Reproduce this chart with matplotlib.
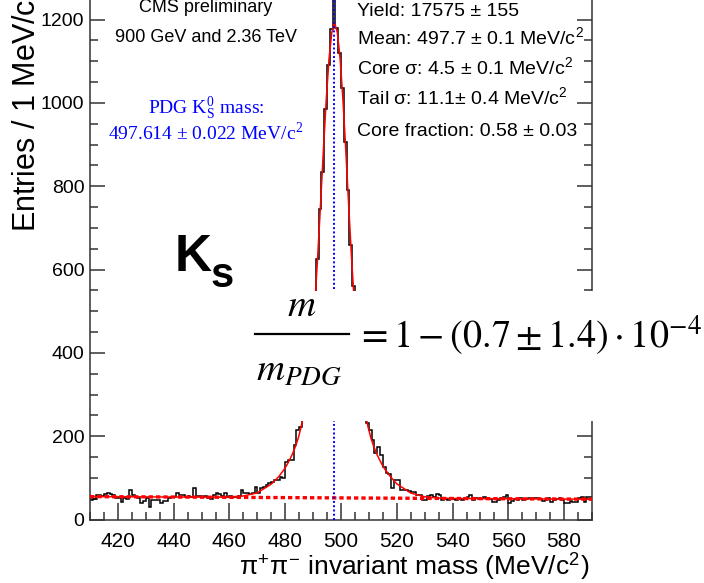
import numpy as np
import matplotlib
matplotlib.use("Agg")
import matplotlib.pyplot as plt
from matplotlib.patches import Rectangle
from matplotlib.lines import Line2D

plt.rcParams["font.family"] = ["Liberation Sans", "DejaVu Sans"]
plt.rcParams["mathtext.fontset"] = "stix"

# histogram: 1 MeV bins from 410 to 590 MeV/c^2
mass_lo, mass_hi, bin_width = 410, 590, 1
counts = [
    48, 50, 58, 59, 57, 61, 63, 62, 58, 51,
    52, 43, 51, 50, 71, 58, 55, 51, 39, 45,
    51, 31, 47, 46, 48, 40, 45, 44, 51, 55,
    54, 63, 60, 59, 55, 56, 54, 75, 56, 57,
    55, 56, 51, 50, 59, 63, 62, 56, 64, 55,
    56, 54, 55, 56, 71, 63, 64, 62, 63, 79,
    64, 75, 77, 83, 88, 91, 95, 95, 103, 100,
    139, 142, 143, 179, 215, 223, 240, 281, 345, 428,
    530, 625, 745, 835, 985, 1090, 1178, 1262, 1180, 1120,
    1035, 905, 790, 660, 560, 455, 375, 310, 268, 232,
    215, 190, 160, 175, 155, 125, 112, 110, 75, 95,
    95, 71, 72, 72, 69, 67, 67, 59, 59, 47,
    48, 56, 59, 55, 61, 58, 47, 50, 47, 51,
    50, 47, 49, 46, 52, 55, 59, 48, 52, 50,
    52, 55, 50, 49, 43, 43, 47, 51, 53, 59,
    40, 44, 50, 47, 51, 48, 50, 51, 49, 51,
    51, 50, 45, 47, 51, 43, 48, 49, 51, 48,
    40, 39, 44, 43, 43, 51, 55, 43, 53, 55,
]

# fitted curve (signal + background)
fit_x = [410, 415, 420, 425, 430, 435, 440, 445, 450, 455, 460, 465, 470, 475,
         477.7, 478.7, 479.7, 480.7, 481.7, 482.7, 483.7, 484.7, 485.7, 486.7,
         487.7, 488.7, 489.7, 490.7, 491.7, 492.7, 493.7, 494.7, 495.7, 496.7,
         497.7, 498.7, 499.7, 500.7, 501.7, 502.7, 503.7, 504.7, 505.7, 506.7,
         507.7, 508.7, 509.7, 510.7, 511.7, 512.7, 513.7, 514.7, 515.7, 516.7,
         517.7, 520, 525, 530, 535, 540, 545, 550, 555, 560, 565, 570, 575,
         580, 585, 590]
fit_y = [55, 54.8, 54.7, 54.5, 54.3, 54.1, 54, 53.9, 53.8, 53.6, 54, 56.5, 64, 85,
         103, 112, 121, 132, 145, 159, 176, 196, 222, 255,
         299, 357, 433, 527, 638, 761, 888, 1007, 1105, 1169,
         1192, 1169, 1105, 1007, 888, 761, 638, 527, 433, 357,
         299, 255, 222, 196, 176, 159, 145, 132, 121, 112,
         103, 85.6, 63.6, 54.5, 51.5, 50.5, 50.3, 50.1, 49.9, 49.8, 49.6, 49.4, 49.2,
         49.1, 48.9, 48.7]

# linear background
bkg_x = [410, 590]
bkg_y = [55, 48.7]

pdg_mass = 497.614

x_major = [420, 440, 460, 480, 500, 520, 540, 560, 580]
y_major = [0, 200, 400, 600, 800, 1000, 1200]

fit_lines = [
    "Yield: 17575 \u00b1 155",
    "Mean: 497.7 \u00b1 0.1 MeV/c$^\\mathregular{2}$",
    "Core \u03c3: 4.5 \u00b1 0.1 MeV/c$^\\mathregular{2}$",
    "Tail \u03c3: 11.1\u00b1 0.4 MeV/c$^\\mathregular{2}$",
    "Core fraction: 0.58 \u00b1 0.03",
]

W, H = 704, 583


def fx(x):
    return x / W


def fy(y):
    return 1 - y / H


fig = plt.figure(figsize=(W / 100, H / 100), dpi=100)
ax = fig.add_axes([fx(90), fy(519.5), fx(592) - fx(90), 519.5 / H])

edges = np.arange(mass_lo, mass_hi + bin_width, bin_width)
ax.stairs(counts, edges, baseline=None, color="black", lw=1.1, zorder=2)
ax.plot(bkg_x, bkg_y, color="red", lw=2.4, ls=(0, (1.3, 0.9)), zorder=3)
ax.plot(fit_x, fit_y, color="red", lw=1.1, zorder=4)
ax.axvline(pdg_mass, color="blue", lw=1.4, ls=(0, (1, 1.2)), zorder=5)

ax.set_xlim(mass_lo, mass_hi)
ax.set_ylim(0, 1247)
ax.set_xticks(x_major)
ax.set_xticks(np.arange(410, 591, 5), minor=True)
ax.set_yticks(y_major)
ax.set_yticks(np.arange(0, 1247, 50), minor=True)
ax.tick_params(which="both", direction="in", right=True, top=False, width=1.1, color="#333333")
ax.tick_params(axis="x", which="major", length=12, labelsize=15, pad=9)
ax.tick_params(axis="x", which="minor", length=6)
ax.tick_params(axis="y", which="major", length=11, labelsize=14, pad=4)
ax.tick_params(axis="y", which="minor", length=6)
ax.spines["top"].set_visible(False)
for s in ["left", "right", "bottom"]:
    ax.spines[s].set_linewidth(1.1)
    ax.spines[s].set_color("#333333")

# axis titles
fig.text(fx(590), fy(575), "\u03c0$^\\mathregular{+}$\u03c0$^\\mathregular{-}$ invariant mass (MeV/c$^\\mathregular{2}$)",
         ha="right", va="baseline", fontsize=19)
fig.text(fx(36), fy(232), "Entries / 1 MeV/c$^\\mathregular{2}$", rotation=90,
         rotation_mode="anchor", ha="left", va="baseline", fontsize=22)

# labels inside the frame
fig.text(fx(206), fy(12), "CMS preliminary", ha="center", va="baseline", fontsize=13)
fig.text(fx(206), fy(42), "900 GeV and 2.36 TeV", ha="center", va="baseline", fontsize=13)
fig.text(fx(206), fy(114), "PDG K$_\\mathregular{S}^\\mathregular{0}$ mass:", ha="center", va="baseline",
         fontsize=14, color="blue", family="Liberation Serif")
fig.text(fx(206), fy(140), "497.614 \u00b1 0.022 MeV/c$^\\mathregular{2}$", ha="center", va="baseline",
         fontsize=14, color="blue", family="Liberation Serif")
for i, line in enumerate(fit_lines):
    fig.text(fx(357), fy(15.5 + 30 * i), line, ha="left", va="baseline", fontsize=14)

fig.text(fx(175), fy(271), "K", ha="left", va="baseline", fontsize=37, weight="bold")
fig.text(fx(210), fy(287), "s", ha="left", va="baseline", fontsize=30, weight="bold")

# white panel with the mass ratio formula
fig.patches.append(Rectangle((fx(245), fy(421)), 1 - fx(245), fy(291) - fy(421),
                             transform=fig.transFigure, facecolor="white", edgecolor="none", zorder=5))
fig.lines.append(Line2D([fx(255), fx(349)], [fy(333.5), fy(333.5)], transform=fig.transFigure,
                        color="black", lw=1.6, zorder=6))
fig.text(fx(302), fy(316), "$m$", ha="center", va="baseline", fontsize=28, zorder=6)
fig.text(fx(256), fy(380), "$m_{PDG}$", ha="left", va="baseline", fontsize=28, zorder=6)
fig.text(fx(356), fy(348), "$=1-(0.7\\pm1.4)\\cdot10^{-4}$", ha="left", va="baseline", fontsize=27.5, zorder=6)

fig.savefig("out.png", dpi=100)
